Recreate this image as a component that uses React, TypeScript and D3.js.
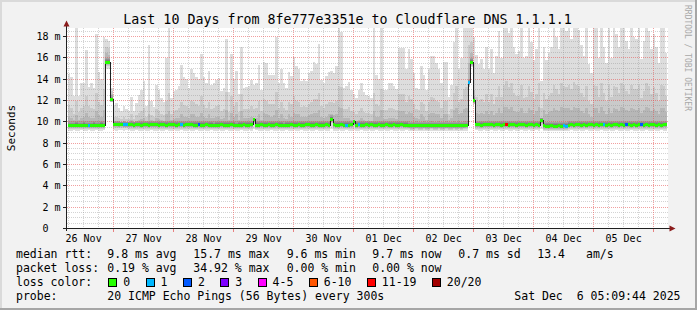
import React from 'react';
import * as d3 from 'd3';

const W = 697;
const H = 310;
const title = 'Last 10 Days from 8fe777e3351e to Cloudflare DNS 1.1.1.1';
const yMax = 18.75;
const yMajorTicks = [0, 2, 4, 6, 8, 10, 12, 14, 16, 18];
const yUnit = 'm';
const dayLabels = ['26 Nov', '27 Nov', '28 Nov', '29 Nov', '30 Nov', '01 Dec', '02 Dec', '03 Dec', '04 Dec', '05 Dec'];
const rangeStart = new Date(2025, 10, 26, 5, 9, 44);
const rangeEnd = new Date(2025, 11, 6, 5, 9, 44);
const firstBin = new Date(2025, 10, 26, 5, 34, 0);

// median rtt per hour (ms)
const median = [
  9.68, 9.68, 9.68, 9.7, 9.68, 9.68, 9.7, 9.68, 9.68, 9.68, 9.7, 9.68, 9.68, 9.7, 9.68, 15.6, 15.6, 12.1, 9.76, 9.76, 9.74, 9.76, 9.74, 9.74,
  9.72, 9.72, 9.7, 9.72, 9.72, 9.7, 9.72, 9.72, 9.7, 9.72, 9.72, 9.72, 9.7, 9.72, 9.72, 9.7, 9.72, 9.72, 9.72, 9.7, 9.72, 9.72, 9.7, 9.72,
  9.72, 9.72, 9.7, 9.7, 9.72, 9.7, 9.7, 9.72, 9.7, 9.7, 9.68, 9.7, 9.7, 9.72, 9.7, 9.7, 9.7, 9.72, 9.7, 9.68, 9.7, 9.7, 9.72, 9.7,
  9.7, 9.72, 10.2, 9.7, 9.7, 9.72, 9.7, 9.7, 9.72, 9.7, 9.7, 9.72, 9.7, 9.7, 9.68, 9.7, 9.7, 9.72, 9.7, 9.7, 9.72, 9.7, 9.7, 9.72,
  9.72, 9.7, 9.7, 9.72, 9.7, 9.7, 9.7, 9.72, 9.7, 10.25, 9.72, 9.7, 9.7, 9.72, 9.7, 9.7, 9.7, 9.72, 10.0, 9.7, 9.72, 9.7, 9.7, 9.72,
  9.7, 9.72, 9.7, 9.7, 9.72, 9.7, 9.7, 9.72, 9.7, 9.7, 9.72, 9.7, 9.7, 9.72, 9.7, 9.7, 9.64, 9.62, 9.62, 9.64, 9.62, 9.62, 9.64, 9.62,
  9.62, 9.64, 9.62, 9.62, 9.64, 9.62, 9.62, 9.64, 9.62, 9.62, 9.64, 9.62, 9.64, 9.62, 9.64, 9.66, 13.66, 15.6, 12.0, 9.72, 9.72, 9.7, 9.72, 9.72,
  9.72, 9.72, 9.7, 9.72, 9.72, 9.7, 9.72, 9.72, 9.7, 9.72, 9.72, 9.7, 9.72, 9.72, 9.72, 9.7, 9.72, 9.72, 9.7, 9.72, 9.7, 10.1, 9.62, 9.6,
  9.6, 9.62, 9.6, 9.6, 9.62, 9.6, 9.62, 9.6, 9.7, 9.72, 9.7, 9.72, 9.72, 9.7, 9.72, 9.7, 9.72, 9.72, 9.7, 9.72, 9.7, 9.72, 9.72, 9.7,
  9.72, 9.7, 9.72, 9.72, 9.7, 9.72, 9.7, 9.72, 9.72, 9.7, 9.72, 9.7, 9.72, 9.72, 9.7, 9.72, 9.7, 9.72, 9.72, 9.7, 9.72, 9.7, 9.72, 9.72,
];

// fastest ping per hour (ms)
const smokeMin = [
  9.15, 9.15, 9.2, 9.15, 9.15, 9.2, 9.15, 9.15, 9.2, 9.15, 9.15, 9.2, 9.15, 9.15, 9.2, 15.0, 15.0, 11.9, 9.2, 9.15, 9.2, 9.2, 9.15, 9.2,
  9.2, 9.15, 9.15, 9.2, 9.15, 9.15, 9.2, 9.15, 9.15, 9.2, 9.15, 9.15, 9.2, 9.15, 9.15, 9.2, 9.15, 9.15, 9.2, 9.15, 9.15, 9.2, 9.15, 9.15,
  9.2, 9.15, 9.15, 9.2, 9.15, 9.15, 9.2, 9.15, 9.15, 9.2, 9.15, 9.15, 9.2, 9.15, 9.15, 9.2, 9.15, 9.15, 9.2, 9.15, 9.15, 9.2, 9.15, 9.15,
  9.2, 9.15, 9.3, 9.2, 9.15, 9.15, 9.2, 9.15, 9.15, 9.2, 9.15, 9.15, 9.2, 9.15, 9.15, 9.2, 9.15, 9.15, 9.2, 9.15, 9.15, 9.2, 9.15, 9.15,
  9.2, 9.15, 9.15, 9.2, 9.15, 9.15, 9.2, 9.15, 9.15, 9.3, 9.15, 9.15, 9.2, 9.15, 9.15, 9.2, 9.15, 9.15, 9.25, 9.15, 9.15, 9.2, 9.15, 9.15,
  9.2, 9.15, 9.15, 9.2, 9.15, 9.15, 9.2, 9.15, 9.15, 9.2, 9.15, 9.15, 9.2, 9.15, 9.15, 9.2, 9.1, 9.1, 9.1, 9.1, 9.1, 9.1, 9.1, 9.1,
  9.1, 9.1, 9.1, 9.1, 9.1, 9.1, 9.1, 9.1, 9.1, 9.1, 9.1, 9.1, 9.1, 9.1, 9.1, 9.1, 13.3, 15.1, 11.7, 9.2, 9.15, 9.15, 9.2, 9.15,
  9.15, 9.2, 9.15, 9.15, 9.2, 9.15, 9.15, 9.2, 9.15, 9.15, 9.2, 9.15, 9.15, 9.2, 9.15, 9.15, 9.2, 9.15, 9.15, 9.2, 9.15, 9.3, 9.1, 9.1,
  9.1, 9.1, 9.1, 9.1, 9.1, 9.1, 9.1, 9.1, 9.15, 9.2, 9.15, 9.15, 9.2, 9.15, 9.15, 9.2, 9.15, 9.15, 9.2, 9.15, 9.15, 9.2, 9.15, 9.15,
  9.2, 9.15, 9.15, 9.2, 9.15, 9.15, 9.2, 9.15, 9.15, 9.2, 9.15, 9.15, 9.2, 9.15, 9.15, 9.2, 9.15, 9.15, 9.2, 9.15, 9.15, 9.2, 9.15, 9.15,
];

// 18th of 20 sorted pings per hour (ms)
const smokeP18 = [
  10.5, 10.4, 10.2, 10.6, 10.2, 10.4, 10.5, 10.8, 10.5, 10.4, 10.4, 11.0, 10.6, 10.5, 11.1, 16.5, 16.3, 12.6, 10.1, 10.1, 10.1, 10.0, 10.1, 10.0,
  10.0, 10.2, 10.0, 10.1, 10.2, 10.3, 10.4, 10.1, 10.7, 10.2, 10.1, 10.4, 10.3, 10.2, 10.1, 10.7, 11.0, 10.2, 10.3, 10.4, 10.4, 10.7, 10.5, 10.5,
  10.4, 10.7, 10.7, 10.5, 10.5, 10.8, 10.5, 10.4, 10.7, 10.4, 10.4, 10.5, 10.5, 10.3, 10.4, 11.1, 10.2, 10.8, 10.5, 10.7, 10.2, 11.0, 10.4, 10.4,
  10.4, 10.5, 10.4, 10.4, 10.7, 10.2, 10.8, 10.7, 10.6, 10.5, 10.6, 11.1, 10.4, 10.7, 10.4, 10.3, 10.7, 10.5, 10.8, 10.7, 10.7, 10.5, 10.5, 10.5,
  10.6, 10.7, 10.8, 10.8, 11.1, 10.5, 10.4, 10.5, 10.7, 10.7, 10.6, 10.7, 11.4, 11.3, 10.4, 10.4, 10.4, 10.2, 10.2, 10.1, 10.2, 10.4, 10.2, 10.1,
  10.1, 10.1, 11.0, 10.5, 10.5, 11.1, 10.3, 10.3, 10.4, 10.4, 10.4, 10.3, 11.0, 11.0, 11.0, 10.7, 10.9, 10.8, 10.5, 10.4, 10.3, 10.7, 10.5, 10.2,
  10.7, 10.8, 10.8, 10.7, 10.7, 10.4, 10.7, 10.7, 10.2, 10.4, 11.1, 11.3, 10.7, 10.8, 11.2, 11.3, 15.5, 16.5, 13.0, 10.8, 10.7, 10.8, 10.7, 11.0,
  10.7, 11.0, 10.6, 10.8, 11.3, 10.8, 11.4, 11.4, 11.2, 11.4, 11.0, 10.9, 10.9, 11.3, 10.8, 10.8, 11.3, 11.1, 10.7, 11.0, 11.4, 10.4, 11.1, 10.7,
  10.9, 11.0, 11.3, 11.1, 11.0, 11.4, 11.3, 11.3, 11.3, 11.1, 11.4, 11.3, 11.3, 11.0, 10.8, 11.3, 10.7, 10.5, 11.3, 11.3, 10.8, 11.4, 11.0, 10.7,
  11.3, 10.8, 11.3, 11.2, 11.0, 11.4, 11.3, 11.1, 11.0, 11.3, 11.2, 11.1, 11.3, 10.8, 11.1, 11.4, 11.3, 11.0, 11.2, 11.0, 10.7, 11.3, 11.3, 10.9,
];

// 19th of 20 sorted pings per hour (ms)
const smokeP19 = [
  11.6, 11.3, 10.7, 12.0, 10.9, 11.3, 11.5, 12.4, 11.5, 11.3, 11.2, 12.7, 11.9, 11.6, 13.1, 17.0, 16.9, 12.9, 10.5, 10.5, 10.4, 10.3, 10.5, 10.3,
  10.3, 10.7, 10.3, 10.6, 10.8, 11.0, 11.3, 10.5, 12.0, 10.6, 10.5, 11.2, 11.0, 10.7, 10.6, 12.0, 12.7, 10.7, 11.0, 11.1, 11.3, 11.9, 11.6, 11.5,
  11.3, 12.0, 11.9, 11.7, 11.5, 12.4, 11.6, 11.3, 11.9, 11.2, 11.3, 11.5, 11.6, 11.0, 11.2, 12.8, 10.9, 12.4, 11.5, 11.9, 10.9, 12.6, 11.2, 11.2,
  11.2, 11.5, 11.2, 11.3, 12.0, 11.0, 12.1, 12.0, 11.7, 11.7, 11.7, 12.8, 11.3, 11.9, 11.3, 11.1, 11.9, 11.7, 12.4, 12.0, 11.9, 11.4, 11.5, 11.4,
  11.7, 11.9, 12.1, 12.1, 12.7, 11.5, 11.3, 11.7, 11.9, 11.9, 11.8, 12.0, 13.4, 13.3, 11.2, 11.2, 11.4, 11.0, 10.9, 10.7, 11.0, 11.3, 10.9, 10.8,
  10.8, 10.7, 12.7, 11.7, 11.5, 13.1, 11.1, 11.1, 11.3, 11.3, 11.2, 11.1, 12.6, 12.6, 12.6, 11.9, 12.4, 12.1, 11.7, 11.2, 11.1, 11.9, 11.7, 11.0,
  11.9, 12.3, 12.2, 12.0, 11.9, 11.3, 12.0, 12.0, 10.7, 11.2, 12.7, 13.4, 11.9, 12.1, 13.1, 13.3, 17.2, 17.5, 15.5, 12.3, 12.0, 12.1, 11.9, 12.6,
  11.9, 12.6, 11.7, 12.3, 13.4, 12.3, 13.5, 13.8, 13.3, 13.6, 12.7, 12.4, 12.4, 13.5, 12.2, 12.3, 13.4, 12.8, 12.1, 12.6, 13.6, 11.3, 12.7, 12.1,
  12.4, 12.7, 13.5, 13.1, 12.6, 13.6, 13.4, 13.3, 13.5, 13.1, 13.7, 13.5, 13.4, 12.7, 12.3, 13.4, 12.0, 11.7, 13.5, 13.4, 12.3, 13.6, 12.7, 12.0,
  13.5, 12.3, 13.4, 13.3, 12.7, 13.6, 13.5, 12.9, 12.6, 13.5, 13.1, 13.1, 13.5, 12.2, 12.9, 13.6, 13.4, 12.6, 13.3, 12.7, 12.0, 13.5, 13.4, 12.4,
];

// slowest ping per hour (ms)
const smokeMax = [
  14.5, 14.2, 12.4, 19.0, 12.4, 13.6, 13.6, 16.7, 13.3, 13.6, 13.2, 18.2, 14.7, 14.0, 18.0, 17.8, 17.6, 13.2, 11.6, 11.8, 11.3, 11.0, 11.5, 11.2,
  11.0, 12.3, 11.0, 11.8, 12.5, 13.0, 13.8, 11.5, 17.2, 12.0, 11.4, 13.5, 13.0, 12.2, 11.9, 16.0, 19.0, 12.2, 12.9, 13.0, 13.4, 15.3, 14.2, 14.0,
  13.2, 15.0, 14.6, 14.2, 14.0, 16.4, 14.2, 13.6, 14.8, 13.5, 13.6, 13.9, 14.1, 12.9, 13.2, 17.8, 12.8, 16.4, 14.0, 14.8, 12.6, 17.0, 13.2, 13.3,
  13.4, 13.9, 13.5, 13.6, 15.3, 13.0, 15.6, 15.5, 14.4, 14.4, 14.4, 18.0, 13.6, 15.0, 13.6, 13.2, 14.7, 14.3, 16.1, 15.2, 15.0, 13.8, 14.0, 13.8,
  14.6, 14.8, 15.6, 15.4, 17.3, 13.9, 13.6, 14.3, 14.7, 14.8, 14.6, 15.2, 19.0, 18.4, 13.2, 13.4, 13.7, 13.0, 12.6, 12.2, 13.0, 13.6, 12.8, 12.5,
  12.4, 12.2, 19.0, 14.4, 14.0, 19.0, 13.0, 13.0, 13.6, 13.6, 13.4, 13.1, 16.9, 16.9, 16.9, 15.0, 16.8, 15.9, 14.6, 13.2, 13.1, 15.2, 14.4, 13.0,
  15.0, 16.2, 16.2, 15.5, 15.0, 13.6, 15.6, 15.6, 12.3, 13.5, 17.5, 19.0, 15.0, 16.0, 19.0, 19.0, 19.0, 19.0, 18.0, 16.3, 15.4, 15.9, 15.0, 17.0,
  15.0, 16.8, 14.6, 16.2, 18.5, 16.0, 19.0, 19.0, 18.3, 19.0, 17.0, 16.4, 16.6, 19.0, 16.0, 16.2, 19.0, 17.5, 15.8, 16.8, 19.0, 13.8, 17.0, 15.8,
  16.5, 17.0, 19.0, 18.0, 16.8, 19.0, 19.0, 18.5, 19.0, 17.8, 19.0, 19.0, 18.6, 17.2, 16.2, 19.0, 15.4, 14.6, 19.0, 19.0, 16.0, 19.0, 17.0, 15.5,
  19.0, 16.0, 19.0, 18.2, 17.0, 19.0, 19.0, 17.6, 16.8, 19.0, 18.0, 17.8, 19.0, 15.9, 17.6, 19.0, 18.5, 16.8, 18.2, 17.0, 15.5, 19.0, 19.0, 16.5,
];

// offsets of pings 2..17 from the median (ms), shared by all hours
const innerOffsets = [-0.35, -0.25, -0.18, -0.13, -0.09, -0.06, -0.03, -0.01, 0.0, 0.02, 0.04, 0.07, 0.1, 0.16, 0.25, 0.4];

// hours with packet loss (index, pings lost of 20)
const lossHours = [8, 22, 23, 45, 52, 111, 116, 160, 175, 198, 199, 214, 223, 229];
const lossCounts = [1, 1, 1, 1, 2, 1, 1, 1, 12, 1, 1, 1, 2, 2];

const lossUpper = [0, 1, 2, 3, 5, 10, 19, 20];
const lossLabels = ['0', '1', '2', '3', '4-5', '6-10', '11-19', '20/20'];
const lossColors = ['#26ff00', '#00b8ff', '#0059ff', '#7e00ff', '#ff00ff', '#ff5500', '#ff0000', '#a10000'];

const statsRtt = ['median rtt:', '9.8 ms avg', '15.7 ms max', '9.6 ms min', '9.7 ms now', '0.7 ms sd', '13.4', 'am/s'];
const statsLoss = ['packet loss:', '0.19 % avg', '34.92 % max', '0.00 % min', '0.00 % now'];
const probeText = ['probe:', '20 ICMP Echo Pings (56 Bytes) every 300s'];
const dateText = 'Sat Dec\u00a0\u00a06 05:09:44 2025';

const FONT = '"DejaVu Sans Mono", monospace';

function lossColor(lost: number) {
  const k = lossUpper.findIndex((u) => lost <= u);
  return lossColors[k < 0 ? lossColors.length - 1 : k];
}

export default function App() {
  const x = d3.scaleTime().domain([rangeStart, rangeEnd]).range([66.5, 666.5]);
  const y = d3.scaleLinear().domain([0, yMax]).range([228.5, 28.5]);
  const plotL = 67;
  const plotR = 667;
  const plotT = 28;
  const plotB = 228.5;

  const lostByHour = new Map<number, number>();
  lossHours.forEach((h, j) => lostByHour.set(h, lossCounts[j]));

  const bars = median.map((med, i) => {
    const t0 = d3.timeHour.offset(firstBin, i);
    const t1 = d3.timeHour.offset(firstBin, i + 1);
    const x0 = Math.max(plotL, Math.round(x(t0)));
    const x1 = Math.min(plotR, Math.round(x(t1)));
    const lo = smokeMin[i];
    const p18 = smokeP18[i];
    const inner = innerOffsets.map((o) => Math.min(p18, Math.max(lo, med + o)));
    const cps = [lo, ...inner, p18, smokeP19[i], smokeMax[i]];
    return { i, x0, x1, med, cps, lost: lostByHour.get(i) ?? 0 };
  });

  const grays = d3.range(10).map((k) => {
    const c = Math.floor((190 / 10) * (10 - (k + 1))) + 50;
    return `rgb(${c},${c},${c})`;
  });

  const cy = (v: number) => Math.min(plotB, Math.max(plotT, y(v)));

  const minorX = d3.timeHour.every(6)!.range(rangeStart, rangeEnd).filter((t) => t.getHours() !== 0);
  const majorX = d3.timeDay.range(rangeStart, rangeEnd);
  const minorY = d3.range(0.5, yMax, 0.5).filter((v) => Math.abs(v / 2 - Math.round(v / 2)) > 1e-6);
  const majorY = yMajorTicks.filter((v) => v > 0);
  const px = (v: number) => Math.floor(v) + 0.5;

  const medianPts: [number, number][] = [];
  bars.forEach((b) => {
    medianPts.push([b.x0, y(b.med)]);
    medianPts.push([b.x1, y(b.med)]);
  });
  const medianPath = d3.line()(medianPts) ?? '';

  const noonLabels = d3.timeDay
    .range(d3.timeDay.floor(rangeStart), rangeEnd)
    .map((d) => d3.timeHour.offset(d, 12))
    .filter((t) => t >= rangeStart && t <= rangeEnd);

  const charW = 6.92;
  let cursor = 108.3;
  const swatches = lossLabels.map((lab, k) => {
    const bx = cursor;
    const tx = bx + 15;
    cursor = tx + lab.length * charW + 15.4;
    return { lab, bx, tx, color: lossColors[k] };
  });

  const rttX = [16, 107.3, 193.3, 286.7, 372.3, 458.3, 537.3, 586];
  const row1 = 258;
  const row2 = 272;
  const row3 = 286;
  const row4 = 300;

  return (
    <svg width={W} height={H} style={{ display: 'block', position: 'absolute', left: 0, top: 0 }} fontFamily={FONT}>
      <defs>
        <clipPath id="plotclip">
          <rect x={plotL} y={plotT} width={plotR - plotL} height={plotB - plotT} />
        </clipPath>
      </defs>
      <rect x={0} y={0} width={W} height={H} fill="#F2F2F2" />
      <rect x={0} y={0} width={W} height={2} fill="#DADADA" />
      <rect x={0} y={0} width={2} height={H} fill="#DADADA" />
      <rect x={W - 2} y={0} width={2} height={H} fill="#A6A6A6" />
      <rect x={0} y={H - 2} width={W} height={2} fill="#A6A6A6" />

      <rect x={plotL} y={plotT} width={plotR - plotL + 1} height={plotB - plotT} fill="#ffffff" />

      <g clipPath="url(#plotclip)" shapeRendering="crispEdges">
        {bars.map((b) =>
          grays.map((g, k) => {
            const top = cy(b.cps[19 - k]);
            const bot = cy(b.cps[k]);
            if (bot - top <= 0) return null;
            return <rect key={`s${b.i}-${k}`} x={b.x0} y={top} width={b.x1 - b.x0} height={bot - top} fill={g} />;
          })
        )}
      </g>

      <g shapeRendering="crispEdges" fill="none" strokeWidth={1} strokeDasharray="1,1">
        {minorY.map((v) => (
          <line key={`my${v}`} x1={plotL} x2={plotR + 1} y1={px(y(v))} y2={px(y(v))} stroke="rgba(140,140,140,0.38)" />
        ))}
        {minorX.map((t) => (
          <line key={`mx${+t}`} x1={px(x(t))} x2={px(x(t))} y1={plotT} y2={plotB} stroke="rgba(140,140,140,0.38)" />
        ))}
        {majorY.map((v) => (
          <line key={`My${v}`} x1={plotL} x2={plotR + 1} y1={px(y(v))} y2={px(y(v))} stroke="rgba(230,80,80,0.55)" />
        ))}
        {majorX.map((t) => (
          <line key={`Mx${+t}`} x1={px(x(t))} x2={px(x(t))} y1={plotT} y2={plotB} stroke="rgba(230,80,80,0.55)" />
        ))}
      </g>

      <g clipPath="url(#plotclip)">
        <path d={medianPath} fill="none" stroke="#202020" strokeWidth={1} shapeRendering="crispEdges" />
        <g shapeRendering="crispEdges">
          {bars.map((b) => (
            <rect key={`m${b.i}`} x={b.x0} y={Math.round(y(b.med) - 1.5)} width={b.x1 - b.x0} height={3} fill={lossColor(b.lost)} />
          ))}
        </g>
      </g>

      <g shapeRendering="crispEdges">
        <line x1={66.5} x2={66.5} y1={231} y2={25} stroke="#202020" />
        <line x1={63} x2={670} y1={228.5} y2={228.5} stroke="#202020" />
        {yMajorTicks.map((v) => (
          <line key={`yt${v}`} x1={63} x2={66} y1={px(y(v))} y2={px(y(v))} stroke="#202020" />
        ))}
        {majorX.map((t) => (
          <line key={`xt${+t}`} x1={px(x(t))} x2={px(x(t))} y1={229} y2={232} stroke="rgba(230,80,80,0.7)" />
        ))}
      </g>
      <polygon points="66.5,20.5 63.5,26.5 69.5,26.5" fill="#8B1C1C" />
      <polygon points="675.5,228.5 669.5,225.5 669.5,231.5" fill="#8B1C1C" />

      <g fontSize={10} fill="#000">
        {yMajorTicks.map((v) => (
          <text key={`yl${v}`} x={60.5} y={y(v) + 3.6} textAnchor="end">
            {v === 0 ? '0\u00a0\u00a0' : `${v}\u00a0${yUnit}`}
          </text>
        ))}
      </g>
      <text transform="translate(14.5,128) rotate(-90)" textAnchor="middle" fontSize={11} fill="#000">
        Seconds
      </text>

      <g fontSize={10} fill="#000">
        {noonLabels.map((t, k) => (
          <text key={`xl${k}`} x={x(t)} y={242} textAnchor="middle">
            {dayLabels[k]}
          </text>
        ))}
      </g>

      <text x={347.5} y={23.7} textAnchor="middle" fontSize={13.3} fill="#000">
        {title}
      </text>
      <text transform="translate(685,5) rotate(90)" fontSize={8} fill="#A8A8A8">
        RRDTOOL / TOBI OETIKER
      </text>

      <g fontSize={11.5} fill="#000">
        {statsRtt.map((s, k) => (
          <text key={`r${k}`} x={rttX[k]} y={row1}>{s}</text>
        ))}
        {statsLoss.map((s, k) => (
          <text key={`l${k}`} x={rttX[k]} y={row2}>{s}</text>
        ))}
        <text x={16} y={row3}>loss color:</text>
        {swatches.map((s) => (
          <g key={`sw${s.lab}`}>
            <rect x={Math.round(s.bx) + 0.5} y={278.5} width={8} height={8} fill={s.color} stroke="#000" strokeWidth={1} shapeRendering="crispEdges" />
            <text x={s.tx} y={row3}>{s.lab}</text>
          </g>
        ))}
        <text x={16} y={row4}>{probeText[0]}</text>
        <text x={107.3} y={row4}>{probeText[1]}</text>
        <text x={680.5} y={row4} textAnchor="end">{dateText}</text>
      </g>
    </svg>
  );
}
